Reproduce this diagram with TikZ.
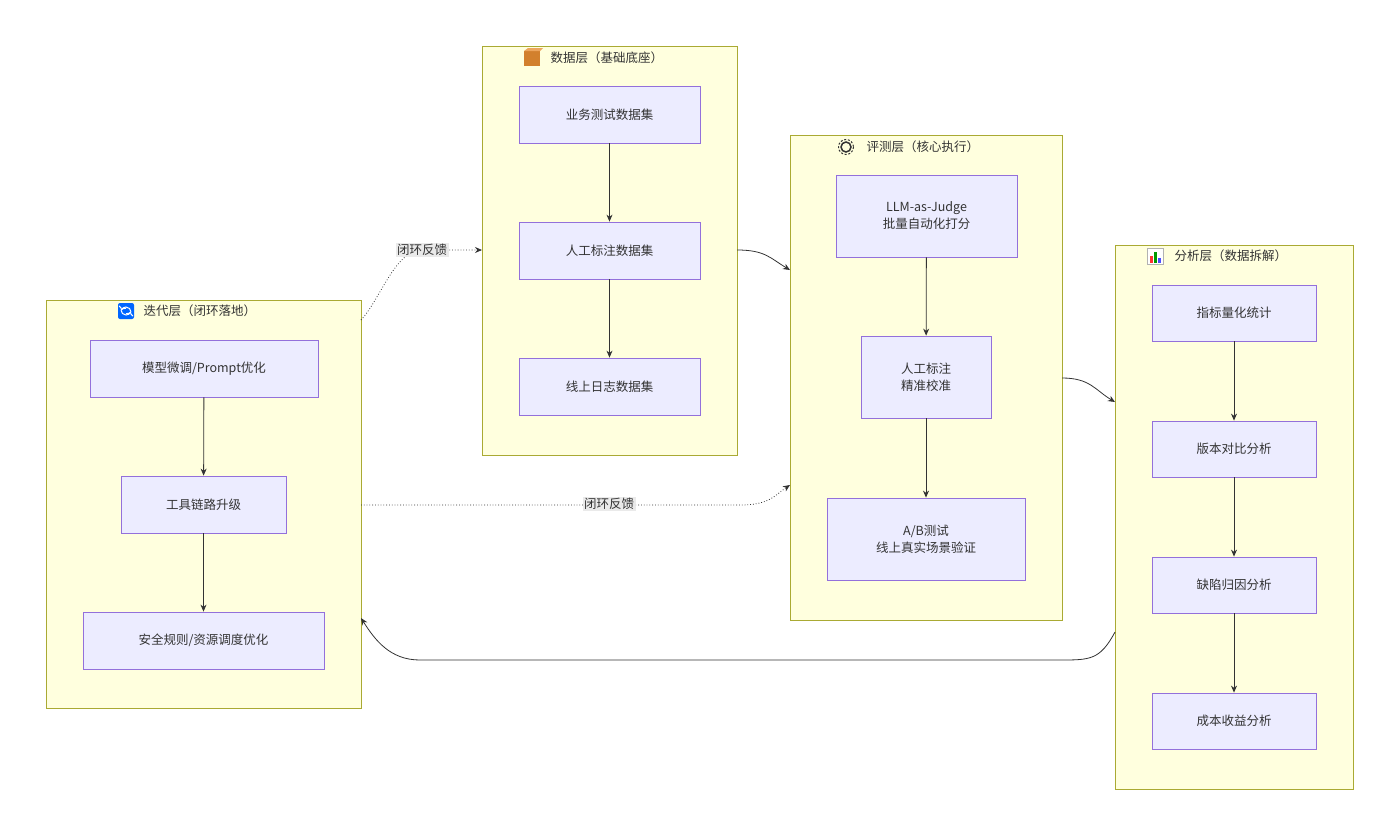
\documentclass[tikz,border=0pt]{standalone}
\usepackage{fontspec}
\setmainfont{Noto Sans CJK SC}
\usetikzlibrary{arrows.meta}
\definecolor{cfill}{HTML}{FFFFDE}\definecolor{cline}{HTML}{AAAA33}
\definecolor{nfill}{HTML}{ECECFF}\definecolor{nline}{HTML}{9370DB}
\definecolor{ed}{HTML}{333333}\definecolor{lbl}{HTML}{E8E8E8}
\begin{document}
\begin{tikzpicture}[x=1pt,y=-1pt,
 cl/.style={draw=cline,fill=cfill,line width=0.8pt},
 nd/.style={draw=nline,fill=nfill,line width=0.8pt},
 tx/.style={font=\fontsize{12.5}{17}\selectfont,text=ed,align=center},
 ar/.style={draw=ed,line width=0.8pt,-{Stealth[length=7pt,width=6pt]}},
 dt/.style={ar,dotted},
 lb/.style={tx,fill=lbl,inner sep=1.5pt,opacity=0.9,text opacity=1}]
\useasboundingbox (0,0) rectangle (1400,836);
% clusters
\draw[cl] (482,46) rectangle (737,455); \coordinate (dl) at (482,250); \coordinate (dr) at (737,250);
\draw[cl] (790,135) rectangle (1062,620); \coordinate (el) at (790,270); \coordinate (er) at (1062,378); \coordinate (el2) at (790,485);
\draw[cl] (1115,245) rectangle (1353,789); \coordinate (al) at (1115,402); \coordinate (al2) at (1115,632);
\draw[cl] (46,300) rectangle (361,708); \coordinate (ir1) at (361,320); \coordinate (ir2) at (361,505); \coordinate (ir3) at (361,618);
% titles
\node[tx,anchor=west] (t1) at (547,58) {数据层（基础底座）};
\fill[brown!70!orange] (524,51) rectangle (540,66); \fill[brown!40!orange!70] (524,51)--(528,48)--(543,48)--(540,51)--cycle;
\node[tx,anchor=west] (t2) at (863,147) {评测层（核心执行）};
\draw[ed,line width=1.5pt] (846,147) circle (5); \draw[ed,line width=1pt,dash pattern=on 2pt off 1.7pt] (846,147) circle (7.5);
\node[tx,anchor=west] (t3) at (1171,256) {分析层（数据拆解）};
\draw[gray!60,fill=white] (1147,248) rectangle (1163,264);
\fill[red!80] (1150,256) rectangle (1153,263); \fill[green!60!black] (1154,252) rectangle (1157,263); \fill[blue!70] (1158,258) rectangle (1161,263);
\node[tx,anchor=west] (t4) at (140,311) {迭代层（闭环落地）};
\fill[blue!60!cyan,rounded corners=2pt] (118,303) rectangle (134,319);
\draw[white,line width=1pt,->] (121,310) arc (180:20:5); \draw[white,line width=1pt,->] (131,312) arc (0:-160:5);
% nodes
\node[nd,tx,minimum width=181,minimum height=57] (a1) at (609.5,114.5) {业务测试数据集};
\node[nd,tx,minimum width=181,minimum height=57] (a2) at (609.5,250.5) {人工标注数据集};
\node[nd,tx,minimum width=181,minimum height=57] (a3) at (609.5,386.5) {线上日志数据集};
\node[nd,tx,minimum width=181,minimum height=82] (b1) at (926.5,216) {LLM-as-Judge\\批量自动化打分};
\node[nd,tx,minimum width=130,minimum height=82] (b2) at (926,377) {人工标注\\精准校准};
\node[nd,tx,minimum width=198,minimum height=82] (b3) at (926,539) {A/B测试\\线上真实场景验证};
\node[nd,tx,minimum width=164,minimum height=56] (c1) at (1234,313) {指标量化统计};
\node[nd,tx,minimum width=164,minimum height=56] (c2) at (1234,449) {版本对比分析};
\node[nd,tx,minimum width=164,minimum height=56] (c3) at (1234,585) {缺陷归因分析};
\node[nd,tx,minimum width=164,minimum height=56] (c4) at (1234,721) {成本收益分析};
\node[nd,tx,minimum width=228,minimum height=57] (d1) at (204,368.5) {模型微调/Prompt优化};
\node[nd,tx,minimum width=165,minimum height=57] (d2) at (203.5,504.5) {工具链路升级};
\node[nd,tx,minimum width=241,minimum height=57] (d3) at (203.5,640.5) {安全规则/资源调度优化};
% edges
\draw[ar] (a1)--(a2); \draw[ar] (a2)--(a3);
\draw[ar] (b1)--(b2); \draw[ar] (b2)--(b3);
\draw[ar] (c1)--(c2); \draw[ar] (c2)--(c3); \draw[ar] (c3)--(c4);
\draw[ar] (d1)--(d2); \draw[ar] (d2)--(d3);
\draw[ar] (dr) .. controls (765,250) and (770,258) .. (el);
\draw[ar] (er) .. controls (1090,378) and (1095,390) .. (al);
\draw[ar] (al2) .. controls (1100,660) and (1090,660) .. (1060,660) -- (420,660) .. controls (390,660) and (375,640) .. (ir3);
\draw[dt] (ir1) .. controls (380,300) and (395,250) .. (422,250) -- (dl);
\node[lb] (l1) at (422,250) {闭环反馈};
\draw[dt] (ir2) -- (740,505) .. controls (770,505) and (775,495) .. (el2);
\node[lb] (l2) at (609,504) {闭环反馈};
\end{tikzpicture}
\end{document}
